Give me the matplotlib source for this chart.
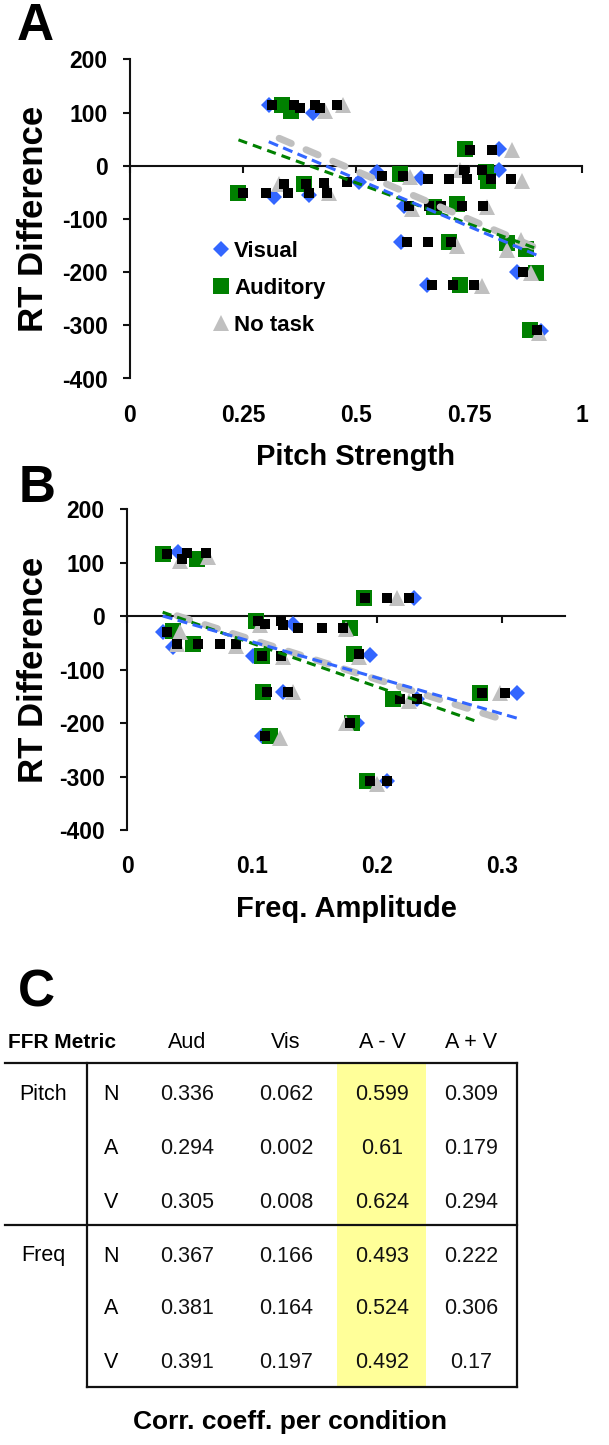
import matplotlib
matplotlib.use('Agg')
import matplotlib.pyplot as plt
from matplotlib.patches import Rectangle
import numpy as np

plt.rcParams['font.family'] = ['Liberation Sans', 'DejaVu Sans']
plt.rcParams['axes.unicode_minus'] = False

# ---------------- Panel A data (Pitch Strength vs RT Difference) ----------------
a_vis_x = [0.307, 0.404, 0.318, 0.395, 0.507, 0.546, 0.644, 0.816, 0.816, 0.607, 0.600, 0.856, 0.657, 0.910]
a_vis_y = [114, 100, -58, -56, -31, -12, -23, 32, -9, -75, -143, -199, -224, -310]
a_aud_x = [0.336, 0.357, 0.240, 0.385, 0.598, 0.742, 0.787, 0.793, 0.672, 0.724, 0.705, 0.835, 0.876, 0.898, 0.731, 0.885]
a_aud_y = [114, 103, -52, -34, -16, 31, -12, -28, -77, -72, -143, -146, -156, -201, -224, -308]
a_none_x = [0.431, 0.472, 0.330, 0.440, 0.620, 0.731, 0.846, 0.868, 0.624, 0.790, 0.724, 0.835, 0.864, 0.887, 0.779, 0.905]
a_none_y = [103, 114, -34, -52, -22, -9, 29, -28, -81, -78, -150, -159, -140, -202, -227, -315]
a_blk_x = [0.315, 0.362, 0.375, 0.410, 0.420, 0.457, 0.250, 0.300, 0.350, 0.340, 0.390, 0.395, 0.435, 0.430,
           0.481, 0.557, 0.604, 0.659, 0.705, 0.739, 0.746, 0.778, 0.798, 0.844, 0.753, 0.800, 0.618, 0.662,
           0.687, 0.735, 0.781, 0.613, 0.659, 0.710, 0.870, 0.668, 0.714, 0.761, 0.900]
a_blk_y = [114, 114, 108, 114, 108, 114, -52, -52, -52, -34, -34, -52, -52, -33,
           -31, -19, -19, -25, -25, -9, -25, -9, -25, -25, 29, 29, -75, -75,
           -75, -75, -75, -143, -143, -143, -199, -224, -224, -224, -308]
# linear trend (slope, intercept)
a_trend_vis = (-359.5, 155.4)
a_trend_aud = (-310.0, 123.0)
a_trend_none = (-362.0, 171.0)

# ---------------- Panel B data (Freq. Amplitude vs RT Difference) ----------------
b_vis_x = [0.041, 0.229, 0.133, 0.0285, 0.037, 0.101, 0.194, 0.125, 0.312, 0.232, 0.184, 0.108, 0.208]
b_vis_y = [120, 34, -14, -29, -58, -74, -72, -141, -144, -155, -200, -224, -308]
b_aud_x = [0.0285, 0.0557, 0.189, 0.103, 0.178, 0.037, 0.053, 0.108, 0.181, 0.109, 0.282, 0.2125, 0.180, 0.114, 0.192]
b_aud_y = [117, 107, 34, -8, -22, -27, -52, -74, -71, -141, -144, -155, -200, -224, -308]
b_none_x = [0.042, 0.065, 0.216, 0.106, 0.175, 0.042, 0.040, 0.087, 0.125, 0.185, 0.133, 0.298, 0.225, 0.175, 0.122, 0.200]
b_none_y = [104, 112, 34, -17, -24, -30, -52, -55, -77, -77, -141, -144, -158, -199, -227, -314]
b_blk_x = [0.032, 0.048, 0.044, 0.063, 0.190, 0.208, 0.225, 0.105, 0.110, 0.123, 0.125, 0.137, 0.156, 0.173,
           0.032, 0.040, 0.057, 0.074, 0.087, 0.108, 0.123, 0.185, 0.112, 0.129, 0.284, 0.302, 0.218, 0.232,
           0.178, 0.110, 0.194, 0.208]
b_blk_y = [117, 119, 107, 119, 34, 34, 34, -8, -14, -8, -16, -21, -21, -21,
           -29, -52, -52, -52, -52, -74, -74, -71, -141, -141, -144, -144, -155, -155,
           -200, -224, -308, -308]
b_trend_vis = (-676.0, 20.0)
b_trend_aud = (-815.0, 31.0)
b_trend_none = (-747.0, 31.0)

y_ticks = [-400, -300, -200, -100, 0, 100, 200]
a_xticks = [0, 0.25, 0.5, 0.75, 1]
b_xticks = [0, 0.1, 0.2, 0.3]
legend_labels = ['Visual', 'Auditory', 'No task']

# ---------------- Panel C data (table) ----------------
metrics = ['Pitch', 'Freq']
conditions = ['N', 'A', 'V']
columns = ['Aud', 'Vis', 'A - V', 'A + V']
col_aud = [0.336, 0.294, 0.305, 0.367, 0.381, 0.391]
col_vis = [0.062, 0.002, 0.008, 0.166, 0.164, 0.197]
col_amv = [0.599, 0.61, 0.624, 0.493, 0.524, 0.492]
col_apv = [0.309, 0.179, 0.294, 0.222, 0.306, 0.17]

# ---------------- styles ----------------
BLUE = '#3366ff'
GREEN = '#008000'
GRAY = '#c0c0c0'

W, H = 609, 1445
fig = plt.figure(figsize=(W / 100, H / 100), dpi=100)

# background axes in pixel coordinates for table / panel letters
axt = fig.add_axes([0, 0, 1, 1])
axt.set_xlim(0, W)
axt.set_ylim(H, 0)
axt.axis('off')


def panel(rect, xmax, xticks, xlabel, vis, aud, none, blk, trends, legend=False):
    ax = fig.add_axes(rect)
    hv, = ax.plot(vis[0], vis[1], 'D', color=BLUE, ms=8.2, mew=0, ls='none', zorder=3)
    ha, = ax.plot(aud[0], aud[1], 's', color=GREEN, ms=11.5, mew=0, ls='none', zorder=3)
    hn, = ax.plot(none[0], none[1], '^', color=GRAY, ms=12, mew=0, ls='none', zorder=3)
    ax.plot(blk[0], blk[1], 's', color='black', ms=7.5, mew=0, ls='none', zorder=4)
    styles = [(none, trends[2], GRAY, 5.0, (1.9, 2.3), 'round'),
              (aud, trends[1], GREEN, 2.2, (3.0, 2.0), 'butt'),
              (vis, trends[0], BLUE, 2.2, (3.3, 1.8), 'butt')]
    for ser, (m, b), col, lw, dash, cap in styles:
        xx = np.array([min(ser[0]), max(ser[0])])
        ax.plot(xx, m * xx + b, color=col, lw=lw, dashes=dash,
                dash_capstyle=cap, solid_capstyle=cap, zorder=5)
    ax.set_xlim(0, xmax)
    ax.set_ylim(-400, 200)
    ax.spines['top'].set_visible(False)
    ax.spines['right'].set_visible(False)
    ax.spines['bottom'].set_position(('data', 0))
    for s in ['left', 'bottom']:
        ax.spines[s].set_linewidth(1.5)
        ax.spines[s].set_color('#111111')
    ax.set_yticks(y_ticks)
    ax.set_yticklabels([f'{t:g}' for t in y_ticks], fontsize=16.5, fontweight='bold')
    ax.set_xticks(xticks)
    ax.tick_params(axis='x', direction='out', length=5, width=1.5, labelbottom=False, color='#111111')
    ax.tick_params(axis='y', direction='out', length=5, width=1.5, pad=11, color='#111111')
    sec = ax.secondary_xaxis('bottom')
    sec.set_xticks(xticks)
    sec.set_xticklabels([f'{t:g}' for t in xticks], fontsize=16.5, fontweight='bold')
    sec.spines['bottom'].set_visible(False)
    sec.tick_params(length=0, pad=18)
    sec.set_xlabel(xlabel, fontsize=21, fontweight='bold', labelpad=12)
    ax.set_ylabel('RT Difference', fontsize=25, fontweight='bold')
    if legend:
        ax.legend([hv, ha, hn], legend_labels, loc='upper left', bbox_to_anchor=(0.186, 0.432),
                  frameon=False, handlelength=0.6, handletextpad=0.3, labelspacing=0.72,
                  borderaxespad=0, borderpad=0, prop={'weight': 'bold', 'size': 16})
    return ax


axA = panel([130 / W, 1 - 378.5 / H, 452 / W, (378.5 - 59.3) / H], 1.0, a_xticks, 'Pitch Strength',
            (a_vis_x, a_vis_y), (a_aud_x, a_aud_y), (a_none_x, a_none_y), (a_blk_x, a_blk_y),
            (a_trend_vis, a_trend_aud, a_trend_none), legend=True)
axA.yaxis.set_label_coords(-0.177, 0.5)

axB = panel([127 / W, 1 - 830 / H, 438 / W, (830 - 509.5) / H], 0.35, b_xticks, 'Freq. Amplitude',
            (b_vis_x, b_vis_y), (b_aud_x, b_aud_y), (b_none_x, b_none_y), (b_blk_x, b_blk_y),
            (b_trend_vis, b_trend_aud, b_trend_none))
axB.yaxis.set_label_coords(-0.176, 0.5)

# panel letters
for lbl, (px, py) in zip(['A', 'B', 'C'], [(35, 26), (37, 488), (36, 993)]):
    axt.text(px, py, lbl, fontsize=37, fontweight='bold', ha='center', va='center')

# ---------------- table ----------------
table_top, table_mid, table_bot = 1063, 1225, 1387
x_left, x_vline, x_right = 5, 87, 517
col_x = [187, 286, 382, 471]
row_y = [1095, 1148, 1202, 1256, 1309, 1363]
axt.add_patch(Rectangle((337, table_top), 426 - 337, table_bot - table_top, color='#ffff99', lw=0, zorder=0))
lk = dict(color='#111111', lw=1.6, solid_capstyle='projecting', zorder=2)
axt.plot([x_left, x_right], [table_top, table_top], **lk)
axt.plot([x_left, x_right], [table_mid, table_mid], **lk)
axt.plot([x_vline, x_right], [table_bot, table_bot], **lk)
axt.plot([x_vline, x_vline], [table_top, table_bot], **lk)
axt.plot([x_right, x_right], [table_top, table_bot], **lk)

axt.text(8, 1042, 'FFR Metric', fontsize=15, fontweight='bold', ha='left', va='center')
for cx, name in zip(col_x, columns):
    axt.text(cx, 1042, name, fontsize=15.5, ha='center', va='center')
for i, m in enumerate(metrics):
    axt.text(43, row_y[i * 3], m, fontsize=15.5, ha='center', va='center')
    for j, c in enumerate(conditions):
        axt.text(111, row_y[i * 3 + j], c, fontsize=15.5, ha='center', va='center')
for cx, vals in zip(col_x, [col_aud, col_vis, col_amv, col_apv]):
    for ry, v in zip(row_y, vals):
        axt.text(cx, ry, f'{v:g}', fontsize=15.5, ha='center', va='center', color='#111111')
axt.text(290, 1422, 'Corr. coeff. per condition', fontsize=19, fontweight='bold', ha='center', va='center')

fig.savefig('out.png', dpi=100)
